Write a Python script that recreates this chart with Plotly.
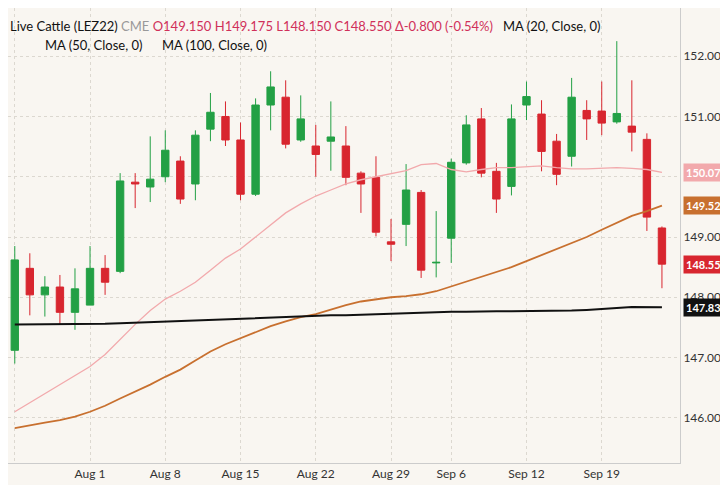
import plotly.graph_objects as go

tick_labels = ["Jul 25", "Aug 1", "Aug 8", "Aug 15", "Aug 22", "Aug 29", "Sep 6", "Sep 12", "Sep 19"]
tick_index = [0, 5, 10, 15, 20, 25, 29, 34, 39]

opens = [147.12, 148.48, 148.04, 148.17, 147.75, 147.87, 148.48, 148.43, 149.91, 149.83,
         150.00, 150.26, 149.88, 150.79, 151.00, 150.61, 149.71, 151.19, 151.32, 150.61,
         150.51, 150.59, 150.51, 150.06, 149.99, 148.92, 149.21, 149.74, 148.57, 148.98,
         150.23, 150.96, 150.09, 149.84, 151.19, 151.04, 150.59, 150.34, 151.10, 151.09,
         150.91, 150.84, 150.62, 149.15]
highs = [148.85, 148.73, 148.35, 148.37, 148.48, 148.85, 148.70, 150.06, 150.06, 150.67,
         150.77, 150.34, 150.77, 151.39, 151.25, 150.90, 151.30, 151.75, 151.60, 151.35,
         150.86, 151.25, 150.84, 150.09, 150.34, 149.30, 150.21, 149.78, 149.43, 150.30,
         151.02, 151.14, 150.23, 151.20, 151.58, 151.27, 150.71, 151.64, 151.27, 151.58,
         152.25, 151.60, 150.72, 149.175]
lows = [146.90, 147.70, 147.68, 147.54, 147.46, 147.87, 148.04, 148.40, 149.48, 149.58,
        149.91, 149.55, 149.61, 150.59, 150.51, 149.61, 149.68, 150.77, 150.47, 150.58,
        150.00, 150.10, 149.86, 149.40, 149.01, 148.60, 148.85, 148.32, 148.33, 148.57,
        150.20, 149.99, 149.40, 149.69, 150.94, 150.09, 149.86, 150.17, 150.61, 150.69,
        150.88, 150.42, 149.10, 148.15]
closes = [148.62, 148.04, 148.17, 147.75, 148.14, 148.48, 148.25, 149.93, 149.88, 149.96,
          150.44, 149.63, 150.69, 151.07, 150.61, 149.71, 151.19, 151.49, 150.54, 150.96,
          150.37, 150.66, 149.99, 149.88, 149.08, 148.88, 149.78, 148.45, 148.58, 150.24,
          150.86, 150.06, 149.63, 150.96, 151.33, 150.42, 150.04, 151.32, 150.96, 150.89,
          151.05, 150.74, 149.33, 148.55]
ma20 = [146.10, 146.25, 146.40, 146.55, 146.70, 146.85, 147.05, 147.30, 147.55, 147.78,
        147.97, 148.10, 148.25, 148.45, 148.65, 148.80, 149.00, 149.20, 149.40, 149.55,
        149.68, 149.78, 149.88, 149.95, 150.00, 150.05, 150.10, 150.20, 150.22, 150.12,
        150.08, 150.12, 150.15, 150.15, 150.17, 150.18, 150.15, 150.13, 150.13, 150.14,
        150.15, 150.14, 150.12, 150.074]
ma50 = [145.83, 145.88, 145.92, 145.96, 146.02, 146.10, 146.20, 146.32, 146.43, 146.55,
        146.68, 146.80, 146.95, 147.10, 147.22, 147.32, 147.43, 147.52, 147.60, 147.67,
        147.72, 147.80, 147.87, 147.93, 147.97, 148.00, 148.02, 148.05, 148.10, 148.18,
        148.27, 148.35, 148.42, 148.50, 148.60, 148.70, 148.80, 148.90, 149.00, 149.12,
        149.24, 149.35, 149.43, 149.521]
ma100 = [147.55, 147.55, 147.55, 147.55, 147.55, 147.55, 147.56, 147.57, 147.58, 147.59,
         147.60, 147.61, 147.62, 147.62, 147.63, 147.64, 147.65, 147.66, 147.67, 147.68,
         147.69, 147.70, 147.70, 147.71, 147.72, 147.73, 147.74, 147.75, 147.75, 147.76,
         147.76, 147.77, 147.77, 147.77, 147.77, 147.78, 147.78, 147.78, 147.79, 147.80,
         147.82, 147.84, 147.84, 147.834]

x = list(range(len(opens)))
GREEN, RED = "#23a045", "#d8262f"
PINK, ORANGE, BLACK = "#f2a9ac", "#c8702f", "#111111"
BG = "#f9f6f1"

fig = go.Figure()
fig.add_trace(go.Scatter(x=x, y=ma20, mode="lines", line=dict(color=PINK, width=1.3), hoverinfo="skip"))
fig.add_trace(go.Scatter(x=x, y=ma50, mode="lines", line=dict(color=ORANGE, width=1.8), hoverinfo="skip"))
fig.add_trace(go.Scatter(x=x, y=ma100, mode="lines", line=dict(color=BLACK, width=2), hoverinfo="skip"))
fig.add_trace(go.Candlestick(
    x=x, open=opens, high=highs, low=lows, close=closes,
    increasing=dict(line=dict(color=GREEN, width=1), fillcolor=GREEN),
    decreasing=dict(line=dict(color=RED, width=1), fillcolor=RED),
    whiskerwidth=0,
))

for val, col in [(ma20[-1], PINK), (ma50[-1], ORANGE), (closes[-1], RED), (ma100[-1], BLACK)]:
    fig.add_annotation(x=1.0, xref="paper", y=val, yref="y", xanchor="left", text=f"<b>{val:.3f}</b>",
                       showarrow=False, bgcolor=col, font=dict(color="white", size=11, family="Lato"),
                       borderpad=2, xshift=3)

header = ("Live Cattle (LEZ22) <span style='color:#999'>CME</span> "
          "<span style='color:#d0305a'>O149.150 H149.175 L148.150 C148.550 Δ-0.800 (-0.54%)</span>")
fig.add_annotation(x=0.0, xref="paper", y=1.0, yref="paper", yshift=-8, xanchor="left", yanchor="top",
                   text=header, showarrow=False, font=dict(size=13, color="#111", family="Lato"), align="left")
fig.add_annotation(x=0.733, xref="paper", y=1.0, yref="paper", yshift=-8, xanchor="left", yanchor="top",
                   text="MA (20, Close, 0)", showarrow=False, font=dict(size=13, color="#111", family="Lato"))
fig.add_annotation(x=0.052, xref="paper", y=1.0, yref="paper", yshift=-27, xanchor="left", yanchor="top",
                   text="MA (50, Close, 0)", showarrow=False, font=dict(size=13, color="#111", family="Lato"))
fig.add_annotation(x=0.226, xref="paper", y=1.0, yref="paper", yshift=-27, xanchor="left", yanchor="top",
                   text="MA (100, Close, 0)", showarrow=False, font=dict(size=13, color="#111", family="Lato"))

fig.update_layout(
    width=728, height=485, margin=dict(l=0, r=56, t=0, b=30),
    paper_bgcolor=BG, plot_bgcolor=BG, showlegend=False,
    font=dict(family="Lato", size=12, color="#333"),
)
fig.update_xaxes(range=[-0.45, 44.2], tickvals=tick_index, ticktext=tick_labels, rangeslider_visible=False,
                 showgrid=True, gridcolor="#dcd8d0", griddash="dot", zeroline=False, ticks="",
                 showline=True, linecolor="#ccc", mirror=False, automargin=False)
fig.update_yaxes(side="right", range=[145.25, 152.8], tickvals=[146, 147, 148, 149, 150, 151, 152],
                 tickformat=".3f", showgrid=True, gridcolor="#dcd8d0", griddash="dot", zeroline=False,
                 showline=True, linecolor="#ccc", ticks="", automargin=False)
fig.write_html("out.html")
